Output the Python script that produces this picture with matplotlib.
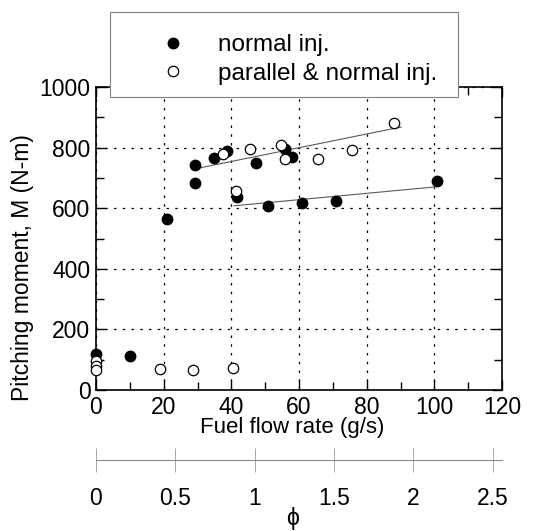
import matplotlib
matplotlib.use("Agg")
import matplotlib.pyplot as plt
from matplotlib.patches import Rectangle
from matplotlib.ticker import MultipleLocator

plt.rcParams['font.family'] = ['Liberation Sans', 'DejaVu Sans']

# data
normal_x = [0, 10, 21, 29.2, 29.4, 34.9, 38.6, 41.8, 47.4, 50.9, 55.9, 58.0, 60.9, 70.8, 100.9]
normal_y = [118, 113, 565, 742, 683, 766, 790, 637, 748, 606, 795, 769, 616, 625, 689]

both_x = [0, 0, 0, 18.8, 28.8, 40.5, 37.6, 41.3, 45.5, 54.6, 56.0, 65.7, 75.6, 88.1]
both_y = [95, 80, 65, 68, 66, 72, 779, 658, 796, 810, 763, 762, 791, 882]

# hand drawn trend lines
upper_x = [30.6, 90.2]
upper_y = [733, 868]
lower_x = [40.8, 100.0]
lower_y = [608, 670]

x_ticks = [0, 20, 40, 60, 80, 100, 120]
y_ticks = [0, 200, 400, 600, 800, 1000]
phi_ticks = [0, 0.5, 1, 1.5, 2, 2.5]
phi_labels = ['0', '0.5', '1', '1.5', '2', '2.5']
g_per_phi = 46.9   # fuel flow rate for phi = 1

W, H = 547, 531
fig = plt.figure(figsize=(W / 100, H / 100), dpi=100)
ax = fig.add_axes([96 / W, 1 - 390 / H, 406 / W, 303 / H])

ax.plot(upper_x, upper_y, color='0.35', lw=0.8, zorder=2)
ax.plot(lower_x, lower_y, color='0.35', lw=0.8, zorder=2)
ax.plot(normal_x, normal_y, 'o', ms=7.5, mfc='black', mec='black',
        label='normal inj.', zorder=3, clip_on=False)
ax.plot(both_x, both_y, 'o', ms=7.5, mfc='white', mec='black', mew=0.9,
        label='parallel & normal inj.', zorder=4, clip_on=False)

ax.set_xlim(0, 120)
ax.set_ylim(0, 1000)
ax.set_xticks(x_ticks)
ax.set_yticks(y_ticks)
ax.xaxis.set_minor_locator(MultipleLocator(10))
ax.yaxis.set_minor_locator(MultipleLocator(100))
ax.tick_params(which='both', direction='in', top=True, right=True,
               labelsize=16.5, width=1.0)
ax.tick_params(which='major', length=7, pad=4)
ax.tick_params(which='minor', length=6)
ax.grid(True, which='major', color='black', ls=(0, (2, 5)), lw=0.9)
for s in ax.spines.values():
    s.set_linewidth(1.2)

ax.set_xlabel('Fuel flow rate (g/s)', fontsize=16, labelpad=-1)
ax.xaxis.label.set_x(0.484)
ax.set_ylabel('Pitching moment, M (N-m)', fontsize=16.5, labelpad=4)
ax.yaxis.label.set_y(0.405)

# legend box (drawn on top of the axes frame)
fig.patches.append(Rectangle((110 / W, 1 - 97 / H), 348 / W, 85 / H,
                             transform=fig.transFigure, facecolor='white',
                             edgecolor='0.5', lw=0.8, zorder=4))
leg = fig.legend(loc='upper left', bbox_to_anchor=(110 / W, 1 - 16 / H),
                 fontsize=17.5, frameon=False, borderpad=0.75,
                 handlelength=3.7, handletextpad=0.0, labelspacing=0.26,
                 borderaxespad=0)
leg.set_zorder(5)

# equivalence ratio axis
ax2 = fig.add_axes([96 / W, 1 - 460 / H, 406 / W, 0.0001])
ax2.set_xlim(0, 120 / g_per_phi)
ax2.set_yticks([])
for side in ['left', 'right', 'top']:
    ax2.spines[side].set_visible(False)
ax2.spines['bottom'].set_color('0.55')
ax2.spines['bottom'].set_linewidth(0.8)
ax2.spines['bottom'].set_linestyle((0, (6, 1)))
ax2.set_xticks(phi_ticks)
ax2.set_xticklabels(phi_labels)
ax2.tick_params(axis='x', direction='inout', length=17, width=0.6,
                color='0.6', labelsize=16.5, pad=11)
fig.text(293 / W, 1 - 519 / H, 'ϕ', fontsize=16.5, ha='center', va='center')

fig.savefig('out.png', dpi=100)
